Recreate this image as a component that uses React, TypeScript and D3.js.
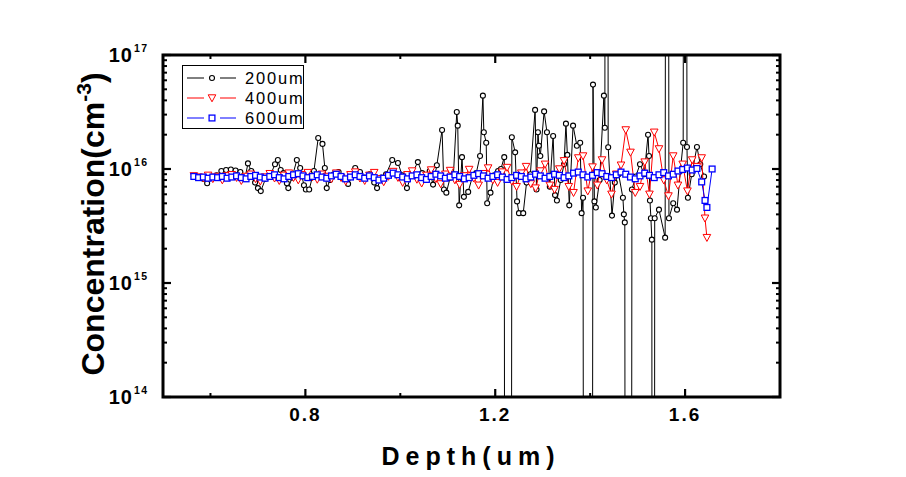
import React from 'react';
import * as d3 from 'd3';

const xMajorTicks = [0.8, 1.2, 1.6];
const xMinorTicks = [0.6, 1.0, 1.4, 1.8];
const yDecades = [14, 15, 16, 17];
const legendLabels = ['200um', '400um', '600um'];

// 200um (values below 1e14 / above 1e17 are off-scale excursions)
const depth200 = [
  0.565, 0.575, 0.585, 0.593, 0.603, 0.613, 0.623, 0.633, 0.643, 0.653,
  0.663, 0.673, 0.679, 0.686, 0.694, 0.700, 0.706, 0.716, 0.726, 0.736,
  0.742, 0.748, 0.754, 0.761, 0.764, 0.772, 0.782, 0.789, 0.797, 0.801,
  0.808, 0.818, 0.827, 0.836, 0.841, 0.845, 0.852, 0.860, 0.870, 0.880,
  0.890, 0.900, 0.905, 0.915, 0.925, 0.935, 0.945, 0.951, 0.960, 0.970,
  0.983, 0.995, 1.004, 1.014, 1.024, 1.037, 1.046, 1.055, 1.062, 1.069,
  1.077, 1.088, 1.092, 1.097, 1.105, 1.112, 1.119, 1.121, 1.124, 1.130,
  1.134, 1.143, 1.152, 1.160, 1.168, 1.174, 1.176, 1.181, 1.183, 1.190,
  1.198, 1.206, 1.212, 1.219, 1.227, 1.235, 1.242, 1.246, 1.250, 1.259,
  1.266, 1.274, 1.284, 1.287, 1.290, 1.292, 1.295, 1.303, 1.309, 1.315,
  1.322, 1.326, 1.330, 1.338, 1.345, 1.349, 1.352, 1.356, 1.364, 1.372,
  1.379, 1.382, 1.385, 1.395, 1.406, 1.409, 1.412, 1.420, 1.429, 1.431,
  1.434, 1.438, 1.446, 1.452, 1.460, 1.469, 1.471, 1.473, 1.480, 1.488,
  1.496, 1.505, 1.514, 1.522, 1.524, 1.526, 1.528, 1.530, 1.533, 1.536,
  1.545, 1.558, 1.562, 1.566, 1.575, 1.583, 1.590, 1.596, 1.600, 1.604,
  1.606, 1.614, 1.625, 1.632, 1.640,
];
const conc200 = [
  8.6e15, 8.4e15, 8.2e15, 7.5e15, 8.6e15, 8.8e15, 9.6e15, 9.8e15, 9.9e15, 9.7e15,
  9.4e15, 8.4e15, 1.12e16, 9.6e15, 7.6e15, 6.8e15, 6.4e15, 8.2e15, 8.8e15, 1.1e16,
  1.2e16, 9.8e15, 9.2e15, 7.5e15, 6.8e15, 8.4e15, 1.2e16, 1.02e16, 7.2e15, 6.6e15,
  6.6e15, 9.6e15, 1.87e16, 1.66e16, 1.02e16, 6.8e15, 8.0e15, 9.0e15, 9.4e15, 8.2e15,
  7.4e15, 8.8e15, 1.02e16, 9.4e15, 8.4e15, 9.0e15, 7.6e15, 6.8e15, 8.4e15, 9.0e15,
  1.2e16, 1.13e16, 8.8e15, 6.8e15, 9.0e15, 1.15e16, 9.2e15, 8.0e15, 9.6e15, 7.3e15,
  1.08e16, 2.2e16, 6.6e15, 6.2e15, 8.4e15, 9.0e15, 3.16e16, 2.4e16, 4.8e15, 1.27e16,
  5.7e15, 6.3e15, 8.6e15, 9.2e15, 1.3e16, 4.4e16, 2.1e16, 1.7e16, 5.0e15, 6.2e15,
  8.8e15, 9.6e15, 1.0e16, 1.27e16, 1e-20, 1.9e16, 1.4e16, 5.2e15, 4.1e15, 4.1e15,
  7.6e15, 9.0e15, 3.3e16, 6.6e15, 2.1e16, 1.6e16, 1.3e16, 3.2e16, 2.1e16, 7.0e15,
  1.95e16, 5.9e15, 5.3e15, 8.0e15, 1.1e16, 2.5e16, 1.33e16, 4.8e15, 2.4e16, 1.6e16,
  1.7e16, 4.1e15, 5.6e15, 1e-20, 5.5e16, 5.2e15, 4.6e15, 8.0e15, 4.4e16, 2.3e16,
  1e30, 1.55e16, 3.9e15, 7.6e15, 9.0e15, 5.6e15, 4.0e15, 3.4e15, 1e-20, 6.6e15,
  8.6e15, 1.1e16, 9.0e15, 2.0e16, 1.3e16, 5.3e15, 3.7e15, 2.4e15, 1e-20, 3.7e15,
  4.4e15, 2.5e15, 1e30, 3.7e15, 5.0e15, 4.4e15, 9.6e15, 1.7e16, 1e30, 1.56e16,
  5.6e15, 9.0e15, 1.56e16, 1.1e16, 8.6e15,
];

const depthGrid = [
  0.565, 0.575, 0.585, 0.595, 0.605, 0.615, 0.625, 0.635, 0.645, 0.655,
  0.665, 0.675, 0.685, 0.695, 0.705, 0.715, 0.725, 0.735, 0.745, 0.755,
  0.765, 0.775, 0.785, 0.795, 0.805, 0.815, 0.825, 0.835, 0.845, 0.855,
  0.865, 0.875, 0.885, 0.895, 0.905, 0.915, 0.925, 0.935, 0.945, 0.955,
  0.965, 0.975, 0.985, 0.995, 1.005, 1.015, 1.025, 1.035, 1.045, 1.055,
  1.065, 1.075, 1.085, 1.095, 1.105, 1.115, 1.125, 1.135, 1.145, 1.155,
  1.165, 1.175, 1.185, 1.195, 1.205, 1.215, 1.225, 1.235, 1.245, 1.255,
  1.265, 1.275, 1.285, 1.295, 1.305, 1.315, 1.325, 1.335, 1.345, 1.355,
  1.365, 1.375, 1.385, 1.395, 1.405, 1.415, 1.425, 1.435, 1.445, 1.455,
  1.465, 1.475, 1.485, 1.495, 1.505, 1.515, 1.525, 1.535, 1.545, 1.555,
  1.565, 1.575, 1.585, 1.595, 1.605, 1.615, 1.625, 1.635,
];
const depth400Tail = [1.642, 1.646];
const depth600Tail = [1.642, 1.646, 1.657];

// in units of 1e15 cm^-3
const conc400 = [
  8.7, 8.5, 8.3, 8.8, 8.2, 8.6, 8.0, 8.7, 8.9, 8.4,
  7.9, 8.6, 9.0, 8.2, 7.8, 8.5, 9.1, 8.3, 7.9, 8.8,
  9.2, 8.4, 8.0, 8.9, 9.3, 8.5, 8.1, 9.0, 8.6, 8.2,
  9.2, 8.4, 7.8, 8.9, 9.4, 8.3, 7.9, 8.8, 9.3, 8.2,
  7.7, 8.6, 9.5, 8.4, 7.6, 8.9, 9.6, 8.1, 7.5, 8.8,
  9.8, 8.2, 7.4, 9.0, 9.7, 8.0, 7.3, 8.7, 9.9, 8.3,
  7.2, 9.1, 10.2, 8.0, 7.6, 9.4, 10.3, 7.8, 7.0, 9.2,
  10.5, 7.4, 6.8, 9.6, 11.0, 7.2, 6.6, 10.0, 11.8, 7.0,
  6.2, 12.5, 13.0, 6.4, 10.4, 7.2, 12.0, 8.0, 6.0, 9.0,
  10.8, 22.0, 14.0, 6.2, 7.0, 11.5, 6.0, 21.0, 15.0, 8.0,
  5.8, 13.0, 7.2, 11.0, 6.4, 12.0, 10.5, 12.5,
  3.7, 2.5,
];
const conc600 = [
  8.6, 8.4, 8.5, 8.3, 8.5, 8.4, 8.6, 8.3, 8.5, 8.7,
  8.4, 8.2, 8.6, 8.8, 8.5, 8.3, 8.6, 8.9, 8.4, 8.2,
  8.6, 8.9, 9.1, 8.7, 8.4, 8.6, 8.9, 8.5, 8.3, 8.7,
  9.0, 8.6, 8.2, 8.5, 8.9, 8.6, 8.3, 8.7, 8.4, 8.0,
  8.3, 8.8, 9.2, 8.9, 8.5, 8.2, 8.7, 8.9, 8.4, 8.1,
  8.6, 9.0, 8.7, 8.3, 8.5, 8.9, 8.6, 8.2, 8.4, 8.8,
  9.1, 8.7, 8.3, 8.6, 8.9, 8.5, 8.1, 8.4, 8.8, 8.6,
  8.2, 8.5, 9.0, 8.7, 8.3, 8.6, 9.0, 8.8, 8.4, 8.7,
  9.2, 9.4, 8.9, 8.5, 8.8, 9.3, 9.1, 8.6, 8.4, 8.9,
  9.4, 9.0, 8.5, 8.2, 8.7, 9.2, 8.8, 8.4, 8.9, 9.3,
  8.7, 9.0, 9.6, 9.9, 10.2, 9.8, 10.1, 7.7,
  5.3, 4.6, 10.0,
];

const L = 163, R = 780, T = 55, B = 397;
const FONT = 'Liberation Sans, Arial, sans-serif';

type P = [number, number];

export default function App() {
  const x = d3.scaleLinear().domain([0.5, 1.8]).range([L, R]);
  const y = d3.scaleLog().domain([1e14, 1e17]).range([B, T]);

  const s200: P[] = depth200.map((d, i) => [d, conc200[i]]);
  const d400 = depthGrid.concat(depth400Tail);
  const s400: P[] = d400.map((d, i) => [d, conc400[i] * 1e15]);
  const d600 = depthGrid.concat(depth600Tail);
  const s600: P[] = d600.map((d, i) => [d, conc600[i] * 1e15]);

  const line = d3.line<P>().x(p => x(p[0])).y(p => y(p[1]));
  const inRange = (p: P) => p[1] >= 1e14 && p[1] <= 1e17;

  const circle = (cx: number, cy: number, k: string | number) => (
    <circle key={k} cx={cx} cy={cy} r={2.5} fill="#fff" stroke="#000" strokeWidth={1.1} />
  );
  const tri = (cx: number, cy: number, k: string | number) => (
    <polygon key={k} points={`${cx - 3.8},${cy - 3.2} ${cx + 3.8},${cy - 3.2} ${cx},${cy + 3.8}`}
      fill="#fff" stroke="#f00" strokeWidth={1} />
  );
  const sq = (cx: number, cy: number, k: string | number) => (
    <rect key={k} x={cx - 2.9} y={cy - 2.9} width={5.8} height={5.8} fill="#fff" stroke="#0000ff" strokeWidth={1.3} />
  );

  const minorY: number[] = [];
  for (let e = 14; e < 17; e++) for (let m = 2; m <= 9; m++) minorY.push(m * Math.pow(10, e));

  const legendY = [78, 98, 118];
  const legendColors = ['#000', '#f00', '#0000ff'];
  const legendMarkers = [circle, tri, sq];

  return (
    <svg width={906} height={477} style={{ position: 'absolute', left: 0, top: 0, background: '#fff' }}
      fontFamily={FONT}>
      <rect x={0} y={0} width={906} height={477} fill="#fff" />
      <defs>
        <clipPath id="plot">
          <rect x={L} y={T} width={R - L} height={B - T} />
        </clipPath>
      </defs>

      <g clipPath="url(#plot)">
        <path d={line(s200) || ''} fill="none" stroke="#000" strokeWidth={1} />
        {s200.filter(inRange).map((p, i) => circle(x(p[0]), y(p[1]), 'c' + i))}
        <path d={line(s400) || ''} fill="none" stroke="#f00" strokeWidth={1} />
        {s400.filter(inRange).map((p, i) => tri(x(p[0]), y(p[1]), 't' + i))}
        <path d={line(s600) || ''} fill="none" stroke="#0000ff" strokeWidth={1} />
        {s600.filter(inRange).map((p, i) => sq(x(p[0]), y(p[1]), 's' + i))}
      </g>

      {/* legend */}
      <rect x={182.5} y={65.5} width={121} height={63} fill="#fff" stroke="#000" strokeWidth={1} />
      {legendLabels.map((lab, i) => (
        <g key={lab}>
          <line x1={187} x2={204} y1={legendY[i]} y2={legendY[i]} stroke={legendColors[i]} strokeWidth={1} />
          <line x1={220} x2={236} y1={legendY[i]} y2={legendY[i]} stroke={legendColors[i]} strokeWidth={1} />
          {legendMarkers[i](212, legendY[i], 'lm' + i)}
          <text x={245} y={legendY[i] + 6} fontSize={16.5} letterSpacing={1.8} fill="#000">{lab}</text>
        </g>
      ))}

      {/* frame */}
      <rect x={L} y={T} width={R - L} height={B - T} fill="none" stroke="#000" strokeWidth={3} />

      {/* x ticks bottom & top */}
      {xMajorTicks.map(t => (
        <g key={'xM' + t}>
          <line x1={x(t)} x2={x(t)} y1={B} y2={B - 8} stroke="#000" strokeWidth={2.2} />
          <line x1={x(t)} x2={x(t)} y1={T} y2={T + 8} stroke="#000" strokeWidth={2.2} />
          <text x={x(t)} y={421} textAnchor="middle" fontSize={19} fontWeight="bold" letterSpacing={2}>
            {t.toFixed(1)}
          </text>
        </g>
      ))}
      {xMinorTicks.map(t => (
        <g key={'xm' + t}>
          <line x1={x(t)} x2={x(t)} y1={B} y2={B - 4} stroke="#000" strokeWidth={2} />
          <line x1={x(t)} x2={x(t)} y1={T} y2={T + 4} stroke="#000" strokeWidth={2} />
        </g>
      ))}

      {/* y ticks left & right */}
      {yDecades.map(e => {
        const yy = y(Math.pow(10, e));
        return (
          <g key={'yM' + e}>
            <line x1={L} x2={L + 8} y1={yy} y2={yy} stroke="#000" strokeWidth={2.2} />
            <line x1={R} x2={R - 8} y1={yy} y2={yy} stroke="#000" strokeWidth={2.2} />
            <text x={133} y={yy + 7} textAnchor="end" fontSize={20} fontWeight="bold" letterSpacing={1}>10</text>
            <text x={134} y={yy - 3} fontSize={10.5} fontWeight="bold" letterSpacing={1.5}>{String(e)}</text>
          </g>
        );
      })}
      {minorY.map((v, i) => {
        const yy = y(v);
        return (
          <g key={'ym' + i}>
            <line x1={L} x2={L + 4} y1={yy} y2={yy} stroke="#000" strokeWidth={2} />
            <line x1={R} x2={R - 4} y1={yy} y2={yy} stroke="#000" strokeWidth={2} />
          </g>
        );
      })}

      {/* axis titles */}
      <text x={471} y={465} textAnchor="middle" fontSize={25} fontWeight="bold" letterSpacing={6}>Depth(um)</text>
      <text transform={`translate(104,${(T + B) / 2 - 2}) rotate(-90)`} textAnchor="middle" fontSize={32} fontWeight="bold">
        Concentration(cm<tspan dy={-13} fontSize={21}>-3</tspan><tspan dy={13}>)</tspan>
      </text>
    </svg>
  );
}
